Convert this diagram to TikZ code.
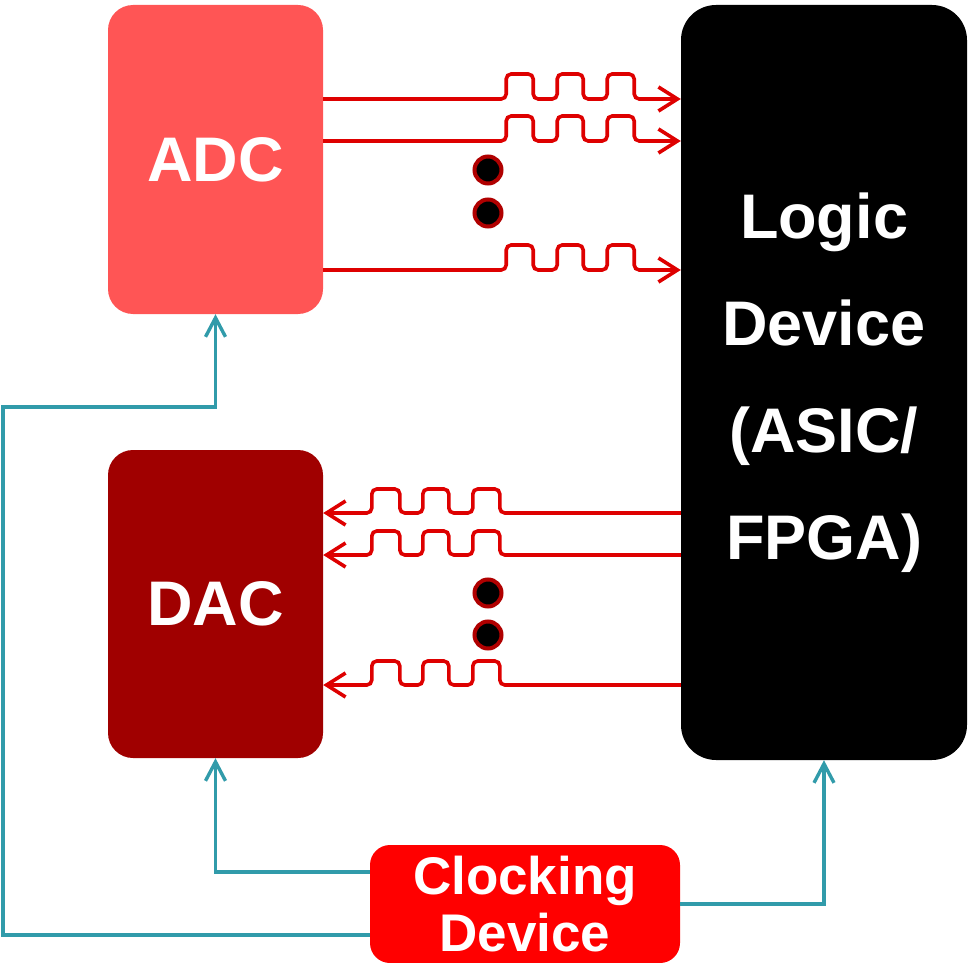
\documentclass[tikz,border=0pt]{standalone}
\usepackage{fontspec}
\setmainfont{Liberation Sans}
\usetikzlibrary{arrows.meta}
\definecolor{adcred}{RGB}{255,85,85}
\definecolor{dacred}{RGB}{160,0,0}
\definecolor{clkred}{RGB}{255,0,0}
\definecolor{sigred}{RGB}{222,0,0}
\definecolor{dotrim}{RGB}{176,0,0}
\definecolor{clkteal}{RGB}{49,155,170}
\tikzset{
  block/.style={draw=none, text=white, font=\bfseries\fontsize{63}{107}\selectfont, align=center, inner sep=0pt},
  sig/.style={draw=sigred, line width=3.6pt, rounded corners=5pt, -{Straight Barb[length=19pt,width=24pt,line width=3.6pt]}},
  clk/.style={draw=clkteal, line width=3.4pt, -{Straight Barb[length=19pt,width=20pt,line width=3.4pt]}},
  ellip/.style={circle, fill=black, draw=dotrim, line width=4pt, minimum size=27pt, inner sep=0pt},
  % three pulses running left to right, then back to the base line
  pulsesR/.style={insert path={-- ++(0,-25) -- ++(27,0) -- ++(0,25) -- ++(24,0) -- ++(0,-25) -- ++(26,0) -- ++(0,25) -- ++(24,0) -- ++(0,-25) -- ++(27,0) -- ++(0,25)}},
  % three pulses running right to left
  pulsesL/.style={insert path={-- ++(0,-24) -- ++(-27,0) -- ++(0,24) -- ++(-24,0) -- ++(0,-24) -- ++(-26,0) -- ++(0,24) -- ++(-23,0) -- ++(0,-24) -- ++(-28,0) -- ++(0,24)}},
}
\begin{document}
\begin{tikzpicture}[x=1pt,y=-1pt]
\useasboundingbox (0,0) rectangle (972,963);

% blocks
\node[block, fill=adcred, rounded corners=25pt, minimum width=215pt, minimum height=309pt] (adc) at (215.5,159.5) {ADC};
\node[block, fill=dacred, rounded corners=25pt, minimum width=215pt, minimum height=308pt] (dac) at (215.5,604) {DAC};
\node[block, fill=black, rounded corners=35pt, minimum width=286pt, minimum height=755pt] (logic) at (824,382.5) {Logic\\Device\\(ASIC/\\FPGA)};
\node[block, fill=clkred, rounded corners=20pt, minimum width=310pt, minimum height=118pt, font=\bfseries\fontsize{53}{57}\selectfont] (clock) at (525,904) {Clocking\\Device};

% ADC to logic data lanes
\coordinate (a1) at (0,99);
\coordinate (a2) at (0,141);
\coordinate (a3) at (0,270);
\foreach \c in {a1,a2,a3}
  \draw[sig] (adc.east |- \c) -- ++(183,0) [pulsesR] -- (logic.west |- \c);

% logic to DAC data lanes
\coordinate (b1) at (0,513);
\coordinate (b2) at (0,555);
\coordinate (b3) at (0,685);
\foreach \c in {b1,b2,b3}
  \draw[sig] (logic.west |- \c) -- ++(-181,0) [pulsesL] -- (dac.east |- \c);

% ellipsis dots between lanes
\node[ellip] (e1) at (488,170) {};
\node[ellip] (e2) at (488,213) {};
\node[ellip] (e3) at (488,593) {};
\node[ellip] (e4) at (488,635) {};

% clock distribution
\coordinate (k1) at (0,872);
\coordinate (k2) at (0,935);
\coordinate (k3) at (0,904);
\coordinate (leftbus) at (3,407);
\draw[clk] (clock.west |- k1) -| (dac.south);
\draw[clk] (clock.west |- k2) -| (leftbus) -| (adc.south);
\draw[clk] (clock.east |- k3) -| (logic.south);
\end{tikzpicture}
\end{document}
